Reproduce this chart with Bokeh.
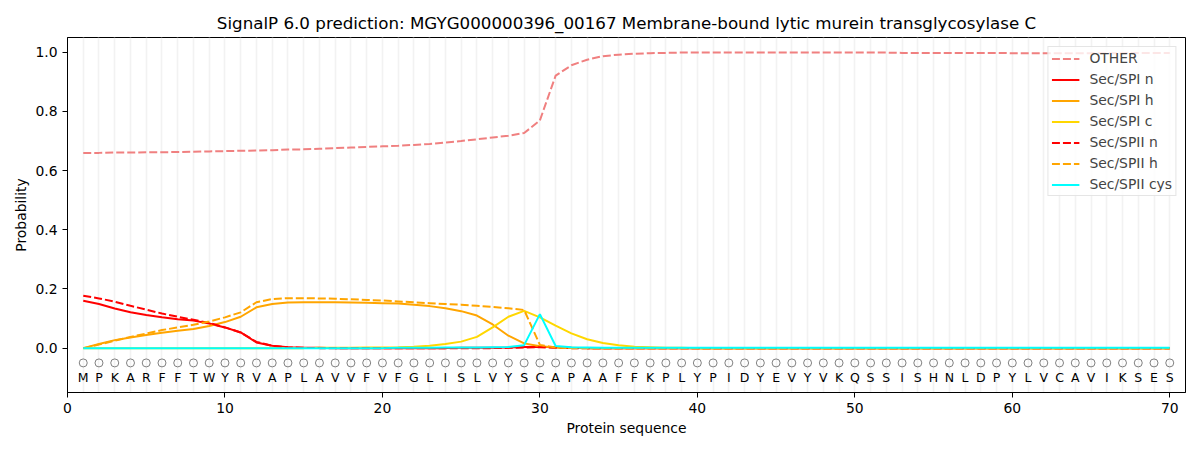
from bokeh.plotting import figure
from bokeh.models import FixedTicker, PrintfTickFormatter, Legend, LegendItem, ColumnDataSource, Range1d
from bokeh.core.properties import value
from bokeh.embed import file_html
from bokeh.resources import INLINE

TITLE = "SignalP 6.0 prediction: MGYG000000396_00167 Membrane-bound lytic murein transglycosylase C"
sequence = list("MPKARFFTWYRVAPLAVVFVFGLISLVYSCAPAAFFKPLYPIDYEVYVKQSSISHNLDPYLVCAVIKSES")
positions = list(range(1, len(sequence) + 1))

other = [0.660, 0.660, 0.661, 0.661, 0.662, 0.662, 0.663, 0.664, 0.665, 0.666,
         0.667, 0.668, 0.669, 0.671, 0.672, 0.674, 0.676, 0.678, 0.680, 0.682,
         0.684, 0.687, 0.690, 0.695, 0.700, 0.706, 0.712, 0.718, 0.727, 0.770,
         0.921, 0.956, 0.975, 0.987, 0.992, 0.995, 0.997, 0.998, 0.999, 0.999,
         0.999, 0.999, 0.999, 0.999, 0.999, 0.999, 0.999, 0.999, 0.999, 0.999,
         0.999, 0.999, 0.998, 0.998, 0.998, 0.998, 0.998, 0.998, 0.998, 0.997,
         0.997, 0.997, 0.997, 0.997, 0.997, 0.997, 0.997, 0.998, 0.998, 0.998]
spi_n = [0.160, 0.149, 0.134, 0.121, 0.112, 0.104, 0.098, 0.093, 0.083, 0.070,
         0.053, 0.019, 0.008, 0.003, 0.001, 0.001, 0.000, 0.000, 0.000, 0.000,
         0.000, 0.000, 0.000, 0.000, 0.001, 0.001, 0.001, 0.002, 0.004, 0.005,
         0.003, 0.001, 0.000, 0.000, 0.000, 0.000, 0.000, 0.000, 0.000, 0.000,
         0.000, 0.000, 0.000, 0.000, 0.000, 0.000, 0.000, 0.000, 0.000, 0.000,
         0.000, 0.000, 0.000, 0.000, 0.000, 0.000, 0.000, 0.000, 0.000, 0.000,
         0.000, 0.000, 0.000, 0.000, 0.000, 0.000, 0.000, 0.000, 0.000, 0.000]
spi_h = [0.000, 0.014, 0.027, 0.036, 0.044, 0.052, 0.059, 0.065, 0.075, 0.088,
         0.106, 0.138, 0.149, 0.154, 0.155, 0.155, 0.155, 0.154, 0.153, 0.152,
         0.151, 0.147, 0.142, 0.135, 0.125, 0.110, 0.080, 0.042, 0.016, 0.006,
         0.002, 0.001, 0.000, 0.000, 0.000, 0.000, 0.000, 0.000, 0.000, 0.000,
         0.000, 0.000, 0.000, 0.000, 0.000, 0.000, 0.000, 0.000, 0.000, 0.000,
         0.000, 0.000, 0.000, 0.000, 0.000, 0.000, 0.000, 0.000, 0.000, 0.000,
         0.000, 0.000, 0.000, 0.000, 0.000, 0.000, 0.000, 0.000, 0.000, 0.000]
spi_c = [0.000, 0.000, 0.000, 0.000, 0.000, 0.000, 0.000, 0.000, 0.000, 0.000,
         0.000, 0.000, 0.000, 0.000, 0.000, 0.001, 0.001, 0.001, 0.002, 0.002,
         0.003, 0.005, 0.008, 0.014, 0.022, 0.038, 0.070, 0.106, 0.126, 0.104,
         0.076, 0.050, 0.030, 0.017, 0.010, 0.005, 0.003, 0.001, 0.001, 0.000,
         0.000, 0.000, 0.000, 0.000, 0.000, 0.000, 0.000, 0.000, 0.000, 0.000,
         0.000, 0.000, 0.000, 0.000, 0.000, 0.000, 0.000, 0.000, 0.000, 0.000,
         0.000, 0.000, 0.000, 0.000, 0.000, 0.000, 0.000, 0.000, 0.000, 0.000]
spii_n = [0.177, 0.168, 0.157, 0.143, 0.130, 0.117, 0.106, 0.096, 0.085, 0.070,
          0.053, 0.021, 0.008, 0.003, 0.001, 0.000, 0.000, 0.000, 0.000, 0.000,
          0.000, 0.000, 0.000, 0.000, 0.000, 0.000, 0.000, 0.001, 0.002, 0.003,
          0.001, 0.000, 0.000, 0.000, 0.000, 0.000, 0.000, 0.000, 0.000, 0.000,
          0.000, 0.000, 0.000, 0.000, 0.000, 0.000, 0.000, 0.000, 0.000, 0.000,
          0.000, 0.000, 0.000, 0.000, 0.000, 0.000, 0.000, 0.000, 0.000, 0.000,
          0.000, 0.000, 0.000, 0.000, 0.000, 0.000, 0.000, 0.000, 0.000, 0.000]
spii_h = [0.000, 0.012, 0.025, 0.038, 0.049, 0.061, 0.070, 0.079, 0.090, 0.104,
          0.121, 0.155, 0.166, 0.169, 0.169, 0.168, 0.167, 0.165, 0.163, 0.161,
          0.158, 0.155, 0.152, 0.149, 0.147, 0.143, 0.139, 0.135, 0.129, 0.011,
          0.002, 0.000, 0.000, 0.000, 0.000, 0.000, 0.000, 0.000, 0.000, 0.000,
          0.000, 0.000, 0.000, 0.000, 0.000, 0.000, 0.000, 0.000, 0.000, 0.000,
          0.000, 0.000, 0.000, 0.000, 0.000, 0.000, 0.000, 0.000, 0.000, 0.000,
          0.000, 0.000, 0.000, 0.000, 0.000, 0.000, 0.000, 0.000, 0.000, 0.000]
spii_cys = [0.000, 0.000, 0.000, 0.000, 0.000, 0.000, 0.000, 0.000, 0.000, 0.000,
            0.000, 0.000, 0.000, 0.000, 0.000, 0.000, 0.000, 0.000, 0.000, 0.000,
            0.001, 0.001, 0.001, 0.002, 0.002, 0.002, 0.003, 0.004, 0.010, 0.115,
            0.007, 0.003, 0.002, 0.001, 0.001, 0.001, 0.001, 0.001, 0.001, 0.001,
            0.001, 0.001, 0.001, 0.001, 0.001, 0.001, 0.001, 0.001, 0.001, 0.001,
            0.001, 0.001, 0.001, 0.001, 0.001, 0.001, 0.001, 0.001, 0.001, 0.001,
            0.001, 0.001, 0.001, 0.001, 0.001, 0.001, 0.001, 0.001, 0.001, 0.001]

x_ticks = [0, 10, 20, 30, 40, 50, 60, 70]
y_ticks = [0.0, 0.2, 0.4, 0.6, 0.8, 1.0]

FONT = "DejaVu Sans"

p = figure(frame_width=1118, frame_height=355,
           x_range=Range1d(0, 71), y_range=Range1d(-0.15, 1.05),
           output_backend="svg", toolbar_location=None,
           min_border_left=67, min_border_right=6, min_border_top=37, min_border_bottom=45,
           title=TITLE)
p.background_fill_color = "white"
p.border_fill_color = "white"
p.outline_line_color = "black"
p.outline_line_width = 1

p.title.text_font = FONT
p.title.text_font_size = "16.7px"
p.title.text_font_style = "normal"
p.title.align = "center"
p.title.text_color = "black"

for ax in (p.xaxis[0], p.yaxis[0]):
    ax.axis_label_text_font = FONT
    ax.axis_label_text_font_size = "13.9px"
    ax.axis_label_text_font_style = "normal"
    ax.axis_label_text_color = "black"
    ax.major_label_text_font = FONT
    ax.major_label_text_font_size = "13.9px"
    ax.major_tick_in = 0
    ax.major_tick_out = 5
    ax.minor_tick_line_color = None
    ax.axis_line_color = "black"
    ax.major_tick_line_color = "black"
    ax.major_label_text_color = "black"

p.xaxis.axis_label = "Protein sequence"
p.yaxis.axis_label = "Probability"
p.xaxis.ticker = FixedTicker(ticks=x_ticks)
p.yaxis.ticker = FixedTicker(ticks=y_ticks)
p.yaxis.formatter = PrintfTickFormatter(format="%.1f")
p.xaxis.axis_label_standoff = 4
p.yaxis.axis_label_standoff = 3

p.ygrid.grid_line_color = None
p.xgrid.ticker = FixedTicker(ticks=positions)
p.xgrid.grid_line_color = "#f2f2f2"
p.xgrid.grid_line_width = 1.6

src = ColumnDataSource(dict(x=positions, other=other, spi_n=spi_n, spi_h=spi_h, spi_c=spi_c,
                            spii_n=spii_n, spii_h=spii_h, spii_cys=spii_cys,
                            res=sequence, yc=[-0.05] * len(sequence), yr=[-0.1] * len(sequence)))

series = [
    ("OTHER", "other", "#f08080", "8 3"),
    ("Sec/SPI n", "spi_n", "#ff0000", "solid"),
    ("Sec/SPI h", "spi_h", "#ffa500", "solid"),
    ("Sec/SPI c", "spi_c", "#ffd700", "solid"),
    ("Sec/SPII n", "spii_n", "#ff0000", "8 3"),
    ("Sec/SPII h", "spii_h", "#ffa500", "8 3"),
    ("Sec/SPII cys", "spii_cys", "#00ffff", "solid"),
]
items = []
for label, col, color, dash in series:
    r = p.line("x", col, source=src, line_color=color, line_width=2, line_dash=dash)
    items.append(LegendItem(label=label, renderers=[r]))

p.scatter("x", "yc", source=src, marker="circle", size=8, fill_color=None,
          line_color="#808080", line_width=1)
p.text("x", "yr", text="res", source=src, text_align="center", text_baseline="middle",
       text_font=value(FONT), text_font_size="12.5px", text_color="black")

legend = Legend(items=items, location="top_right")
legend.label_text_font = FONT
legend.label_text_font_size = "13.9px"
legend.glyph_width = 28
legend.glyph_height = 15
legend.label_height = 15
legend.spacing = 5
legend.padding = 3
legend.margin = 9
legend.label_standoff = 10
legend.border_line_color = "#cccccc"
legend.border_line_width = 1
legend.background_fill_alpha = 0.8
p.add_layout(legend)

open("out.html", "w").write(file_html(p, INLINE))
